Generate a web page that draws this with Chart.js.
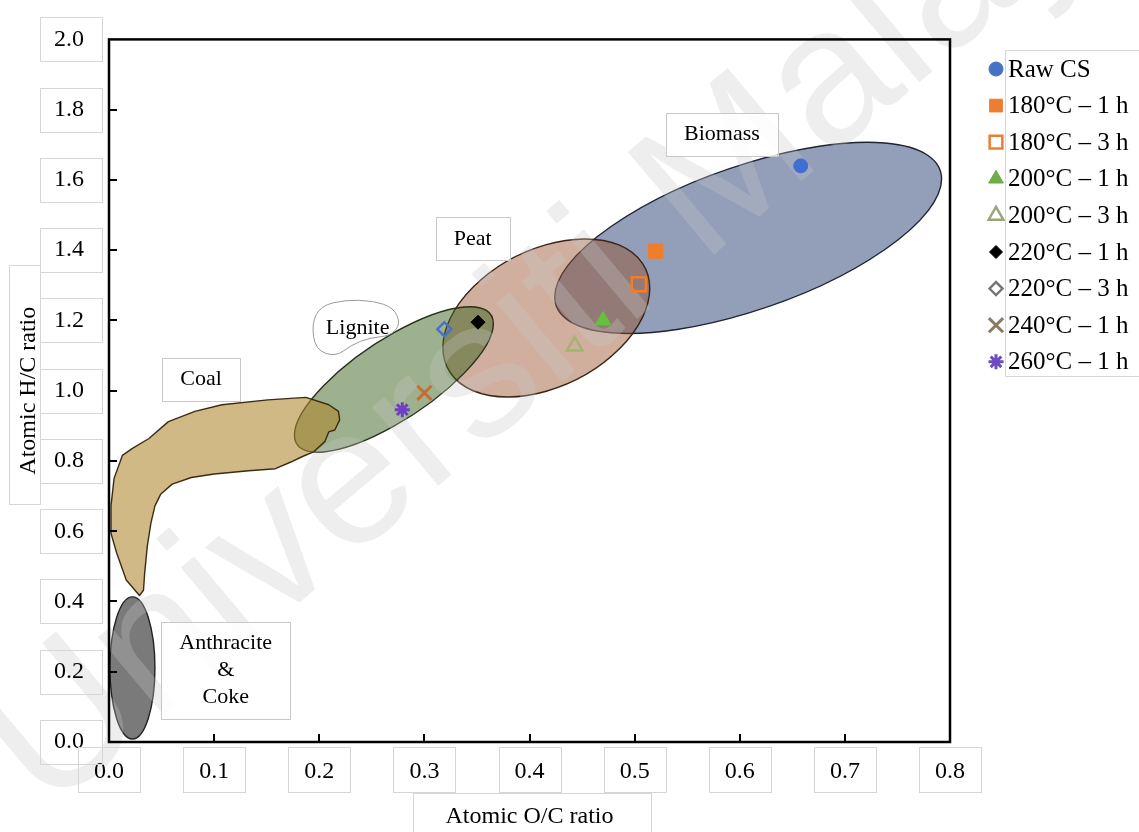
<!DOCTYPE html>
<html>
<head>
<meta charset="utf-8">
<title>Van Krevelen diagram</title>
<script src="https://cdn.jsdelivr.net/npm/chart.js@4.4.1/dist/chart.umd.min.js"></script>
<style>
  html, body { margin: 0; padding: 0; background: #fff; }
</style>
</head>
<body>
<canvas id="vk" width="1139" height="832"></canvas>
<script>
// Atomic ratios of the raw and hydrothermally treated samples
const seriesNames = ['Raw CS', '180°C – 1 h', '180°C – 3 h', '200°C – 1 h', '200°C – 3 h',
  '220°C – 1 h', '220°C – 3 h', '240°C – 1 h', '260°C – 1 h'];
const ocRatio = [0.658, 0.520, 0.504, 0.470, 0.443, 0.351, 0.319, 0.300, 0.279];
const hcRatio = [1.640, 1.397, 1.303, 1.200, 1.127, 1.195, 1.175, 0.994, 0.946];

const xTickLabels = ['0.0', '0.1', '0.2', '0.3', '0.4', '0.5', '0.6', '0.7', '0.8'];
const yTickLabels = ['0.0', '0.2', '0.4', '0.6', '0.8', '1.0', '1.2', '1.4', '1.6', '1.8', '2.0'];

// fuel regions drawn as ellipses: centre, half extents (data units) and tilt
const regionNames = ['Biomass', 'Peat', 'Lignite', 'Anthracite & Coke'];
const regionCentreOC = [0.608, 0.416, 0.271, 0.0223];
const regionCentreHC = [1.435, 1.207, 1.032, 0.2108];
const regionHalfOC = [0.184, 0.0984, 0.0946, 0.0214];
const regionHalfHC = [0.272, 0.225, 0.2071, 0.2023];
const regionTilt = [38, 22, 50, 0];

// outline of the coal band
const coalOC = [0.029, 0.0164, 0.0073, 0.0019, 0.0019, 0.0048, 0.0128, 0.0219, 0.038, 0.0565,
  0.0817, 0.1074, 0.1511, 0.1873, 0.2091, 0.2183, 0.2194, 0.2148, 0.2091, 0.2053, 0.1947,
  0.1835, 0.1730, 0.1583, 0.1329, 0.1001, 0.0783, 0.0601, 0.0491, 0.0437, 0.0399, 0.0364,
  0.0339, 0.0328];
const coalHC = [0.417, 0.461, 0.538, 0.594, 0.672, 0.750, 0.816, 0.835, 0.864, 0.912,
  0.941, 0.960, 0.974, 0.981, 0.960, 0.941, 0.917, 0.888, 0.883, 0.855, 0.826,
  0.812, 0.797, 0.778, 0.772, 0.763, 0.753, 0.734, 0.705, 0.672, 0.624, 0.557,
  0.480, 0.432];

// region captions
const labelText = [['Biomass'], ['Peat'], ['Lignite'], ['Coal'], ['Anthracite', '&', 'Coke']];
const labelOC = [0.583, 0.346, 0.2365, 0.0875, 0.111];
const labelHC = [1.729, 1.432, 1.179, 1.032, 0.203];

// styles
const regionFill = ['rgba(40,62,115,0.5)', 'rgba(150,78,40,0.45)', 'rgba(60,100,30,0.5)', 'rgba(70,70,70,0.72)'];
const regionLine = ['#1f2433', '#3b2416', '#27301c', '#222222'];
const coalFill = 'rgba(175,135,45,0.58)';
const coalLine = '#3a2c14';

const markerShape = ['circle', 'rect', 'rect', 'triangle', 'triangle', 'rectRot', 'rectRot', 'crossRot', 'star'];
const markerSize = [7, 10, 10, 9, 9, 7, 7, 10, 7.5];
const markerFill = ['#3f6fd1', '#f07d2a', 'rgba(0,0,0,0)', '#63c23a', 'rgba(0,0,0,0)', '#000000',
  'rgba(0,0,0,0)', '#c46f2f', '#6c3fc4'];
const markerLine = ['#3f6fd1', '#f07d2a', '#f07d2a', '#63c23a', '#a4b46c', '#000000', '#4a6fd0', '#c46f2f', '#6c3fc4'];
const markerLineWidth = [1, 1, 2.5, 1, 2.5, 1, 2.5, 3, 3];
const legendLine = ['#4472c4', '#ed7d31', '#ed7d31', '#70ad47', '#9aa57a', '#000000', '#777777', '#8a7c63', '#6a4cc0'];
const legendSize = [7, 9, 9, 8.5, 8.5, 6.5, 6.5, 10, 7.5];

const serif = '"Times New Roman", "Liberation Serif", serif';
const boxLine = '#d6d6d6';

function ellipsePath(ctx, xs, ys, i) {
  const cx = xs.getPixelForValue(regionCentreOC[i]);
  const cy = ys.getPixelForValue(regionCentreHC[i]);
  const rx = xs.getPixelForValue(regionCentreOC[i] + regionHalfOC[i]) - cx;
  const ry = cy - ys.getPixelForValue(regionCentreHC[i] + regionHalfHC[i]);
  const t = regionTilt[i] * Math.PI / 180;
  ctx.save();
  ctx.beginPath();
  ctx.translate(cx, cy);
  ctx.transform(rx, -ry * Math.sin(t), 0, -ry * Math.cos(t), 0, 0);
  ctx.arc(0, 0, 1, 0, 2 * Math.PI);
  ctx.closePath();
  ctx.restore();
}

function cloudPath(ctx, cx, cy) {
  const pts = [[-46, -4], [-37, -22], [-12, -28], [16, -27], [36, -20], [43, -4],
    [33, 8], [12, 10], [-6, 17], [-22, 29], [-42, 22]];
  const n = pts.length;
  ctx.beginPath();
  for (let k = 0; k <= n; k++) {
    const p = pts[k % n], q = pts[(k + 1) % n];
    const mx = cx + (p[0] + q[0]) / 2, my = cy + (p[1] + q[1]) / 2;
    if (k === 0) ctx.moveTo(mx, my);
    else ctx.quadraticCurveTo(cx + p[0], cy + p[1], mx, my);
  }
  ctx.closePath();
}

const vkDecor = {
  id: 'vkDecor',
  beforeDraw(chart) {
    const ctx = chart.ctx;
    ctx.save();
    ctx.fillStyle = '#ffffff';
    ctx.fillRect(0, 0, chart.width, chart.height);
    ctx.restore();
  },
  beforeDatasetsDraw(chart) {
    const {ctx, scales: {x, y}} = chart;
    ctx.save();
    ctx.lineJoin = 'round';
    // biomass, peat, lignite
    [0, 1, 2].forEach(i => {
      ellipsePath(ctx, x, y, i);
      ctx.fillStyle = regionFill[i];
      ctx.fill();
      ctx.strokeStyle = regionLine[i];
      ctx.lineWidth = 1.4;
      ctx.stroke();
    });
    // coal band
    ctx.beginPath();
    coalOC.forEach((v, k) => {
      const px = x.getPixelForValue(v), py = y.getPixelForValue(coalHC[k]);
      if (k === 0) ctx.moveTo(px, py); else ctx.lineTo(px, py);
    });
    ctx.closePath();
    ctx.fillStyle = coalFill;
    ctx.fill();
    ctx.strokeStyle = coalLine;
    ctx.lineWidth = 1.4;
    ctx.stroke();
    // anthracite & coke
    ellipsePath(ctx, x, y, 3);
    ctx.fillStyle = regionFill[3];
    ctx.fill();
    ctx.strokeStyle = regionLine[3];
    ctx.stroke();

    // watermark
    ctx.translate(46, 815);
    ctx.rotate(-40 * Math.PI / 180);
    ctx.font = '195px "Liberation Sans", Arial, sans-serif';
    ctx.fillStyle = 'rgba(200,200,200,0.3)';
    ctx.textBaseline = 'alphabetic';
    ctx.fillText('Universiti Malaya', 0, 0);
    ctx.restore();
  },
  afterDraw(chart) {
    const {ctx, chartArea: a, scales: {x, y}} = chart;
    ctx.save();

    // faint boxes round the tick labels and axis titles
    ctx.strokeStyle = boxLine;
    ctx.lineWidth = 1;
    x.ticks.forEach(t => {
      const px = x.getPixelForValue(t.value);
      ctx.strokeRect(Math.round(px - 31) + 0.5, 747.5, 62, 45);
    });
    y.ticks.forEach(t => {
      const py = y.getPixelForValue(t.value);
      ctx.strokeRect(40.5, Math.round(py - 22) + 0.5, 62, 44);
    });
    ctx.strokeRect(413.5, 793.5, 238, 45);
    ctx.strokeRect(9.5, 265.5, 31, 239);

    // plot frame
    ctx.strokeStyle = '#000';
    ctx.lineWidth = 2.5;
    ctx.strokeRect(a.left, a.top, a.right - a.left, a.bottom - a.top);
    // inward tick marks
    ctx.lineWidth = 2;
    ctx.beginPath();
    x.ticks.forEach((t, k) => {
      if (k === 0 || k === x.ticks.length - 1) return;
      const px = Math.round(x.getPixelForValue(t.value));
      ctx.moveTo(px, a.bottom);
      ctx.lineTo(px, a.bottom - 8);
    });
    y.ticks.forEach((t, k) => {
      if (k === 0 || k === y.ticks.length - 1) return;
      const py = Math.round(y.getPixelForValue(t.value));
      ctx.moveTo(a.left, py);
      ctx.lineTo(a.left + 8, py);
    });
    ctx.stroke();

    // region captions
    ctx.font = '22px ' + serif;
    ctx.textAlign = 'center';
    ctx.textBaseline = 'middle';
    labelText.forEach((lines, i) => {
      const cx = x.getPixelForValue(labelOC[i]);
      const cy = y.getPixelForValue(labelHC[i]);
      const w = Math.max(...lines.map(s => ctx.measureText(s).width));
      const h = lines.length * 27 + 16;
      if (lines[0] === 'Lignite') {
        cloudPath(ctx, cx, cy);
        ctx.fillStyle = '#ffffff';
        ctx.fill();
        ctx.strokeStyle = '#9a9a9a';
        ctx.lineWidth = 1;
        ctx.stroke();
      } else {
        ctx.fillStyle = 'rgba(255,255,255,0.85)';
        ctx.fillRect(cx - w / 2 - 18, cy - h / 2, w + 36, h);
        ctx.strokeStyle = '#c8c8c8';
        ctx.lineWidth = 1;
        ctx.strokeRect(Math.round(cx - w / 2 - 18) + 0.5, Math.round(cy - h / 2) + 0.5, Math.round(w + 36), h);
      }
      ctx.fillStyle = '#000';
      lines.forEach((s, k) => {
        ctx.fillText(s, cx, cy + (k - (lines.length - 1) / 2) * 27);
      });
    });

    // legend
    ctx.strokeStyle = boxLine;
    ctx.lineWidth = 1;
    ctx.strokeRect(1005.5, 50.5, 140, 326);
    ctx.font = '25px ' + serif;
    ctx.textAlign = 'left';
    ctx.textBaseline = 'middle';
    seriesNames.forEach((name, i) => {
      const ly = 69 + i * 36.6;
      ctx.fillStyle = markerFill[i] === 'rgba(0,0,0,0)' ? '#ffffff' : legendLine[i];
      ctx.strokeStyle = legendLine[i];
      ctx.lineWidth = markerLineWidth[i];
      Chart.helpers.drawPoint(ctx, {
        pointStyle: markerShape[i], radius: legendSize[i], rotation: 0,
        borderWidth: markerLineWidth[i]
      }, 996, ly);
      ctx.fillStyle = '#000';
      ctx.fillText(name, 1008, ly + 1);
    });
    ctx.restore();
  }
};

const datasets = seriesNames.map((name, i) => ({
  label: name,
  data: [{x: ocRatio[i], y: hcRatio[i]}],
  pointStyle: markerShape[i],
  pointRadius: markerSize[i],
  pointHoverRadius: markerSize[i],
  backgroundColor: markerFill[i],
  borderColor: markerLine[i],
  borderWidth: markerLineWidth[i]
}));

new Chart(document.getElementById('vk'), {
  type: 'scatter',
  data: {datasets},
  options: {
    responsive: false,
    animation: false,
    devicePixelRatio: 1,
    layout: {padding: {left: 8, right: 189, top: 35, bottom: 0}},
    plugins: {
      legend: {display: false},
      tooltip: {enabled: false}
    },
    scales: {
      x: {
        type: 'linear',
        min: 0,
        max: 0.8,
        grid: {display: false, drawTicks: false},
        border: {display: false},
        ticks: {
          z: 1,
          stepSize: 0.1,
          padding: 15,
          color: '#000',
          font: {family: serif, size: 24},
          callback: (v, i) => xTickLabels[i]
        },
        title: {
          display: true,
          text: 'Atomic O/C ratio',
          color: '#000',
          font: {family: serif, size: 24},
          padding: {top: 0, bottom: 1}
        },
        afterFit: s => { s.height = 90; }
      },
      y: {
        type: 'linear',
        min: 0,
        max: 2,
        grid: {display: false, drawTicks: false},
        border: {display: false},
        ticks: {
          z: 1,
          stepSize: 0.2,
          padding: 25,
          color: '#000',
          font: {family: serif, size: 24},
          callback: (v, i) => yTickLabels[i]
        },
        title: {
          display: true,
          text: 'Atomic H/C ratio',
          color: '#000',
          font: {family: serif, size: 24},
          padding: {top: 6, bottom: 0}
        },
        afterFit: s => { s.width = 101; }
      }
    }
  },
  plugins: [vkDecor]
});
</script>
</body>
</html>
